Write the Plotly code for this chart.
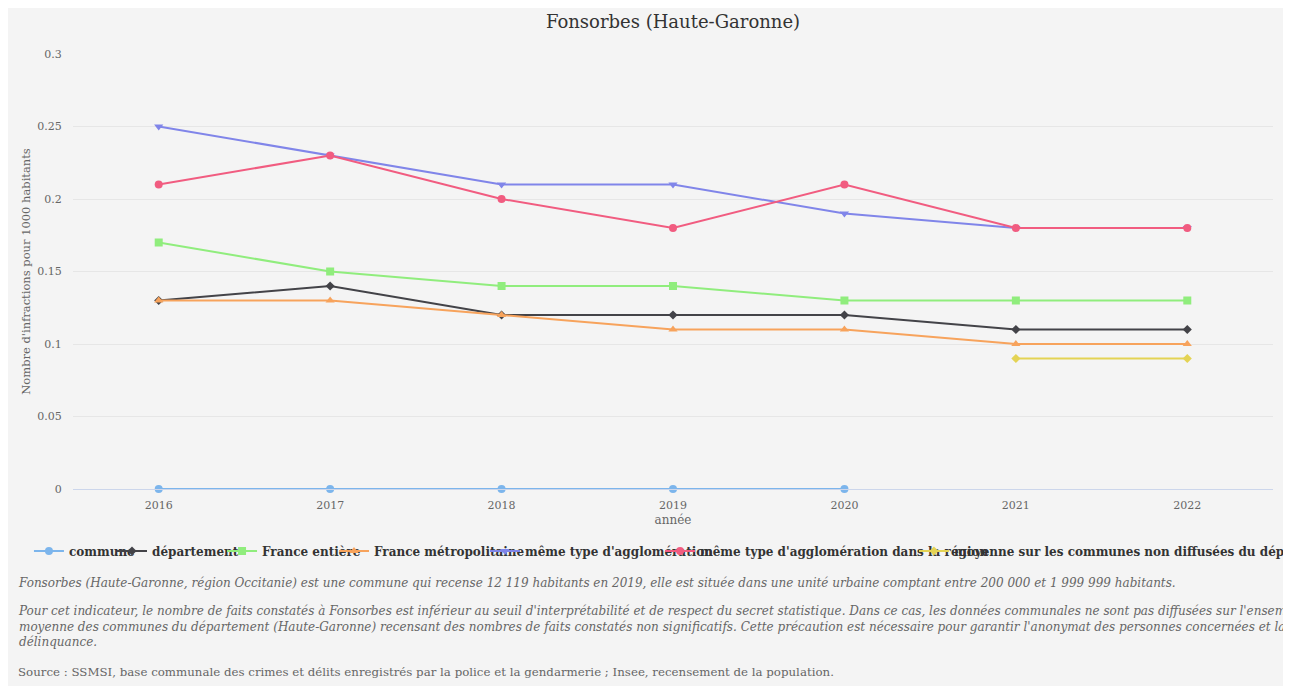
import plotly.graph_objects as go

years = [2016, 2017, 2018, 2019, 2020, 2021, 2022]

series_names = [
    "commune",
    "département",
    "France entière",
    "France métropolitaine",
    "même type d'agglomération",
    "même type d'agglomération dans la région",
    "moyenne sur les communes non diffusées du département",
]

commune = [0, 0, 0, 0, 0, None, None]
departement = [0.13, 0.14, 0.12, 0.12, 0.12, 0.11, 0.11]
france_entiere = [0.17, 0.15, 0.14, 0.14, 0.13, 0.13, 0.13]
france_metro = [0.13, 0.13, 0.12, 0.11, 0.11, 0.10, 0.10]
meme_type = [0.25, 0.23, 0.21, 0.21, 0.19, 0.18, 0.18]
meme_type_region = [0.21, 0.23, 0.20, 0.18, 0.21, 0.18, 0.18]
moyenne_non_diffusees = [None, None, None, None, None, 0.09, 0.09]

y_ticks = [0, 0.05, 0.1, 0.15, 0.2, 0.25, 0.3]
y_tick_labels = ["0", "0.05", "0.1", "0.15", "0.2", "0.25", "0.3"]

title_text = "Fonsorbes (Haute-Garonne)"
x_title = "année"
y_title = "Nombre d'infractions pour 1000 habitants"

note1 = ("Fonsorbes (Haute-Garonne, région Occitanie) est une commune qui recense 12 119 habitants en 2019, "
         "elle est située dans une unité urbaine comptant entre 200 000 et 1 999 999 habitants.")
note2 = ("Pour cet indicateur, le nombre de faits constatés à Fonsorbes est inférieur au seuil d'interprétabilité "
         "et de respect du secret statistique. Dans ce cas, les données communales ne sont pas diffusées sur l'ensemble de la période<br>"
         "moyenne des communes du département (Haute-Garonne) recensant des nombres de faits constatés non significatifs. "
         "Cette précaution est nécessaire pour garantir l'anonymat des personnes concernées et la pertinence des indicateurs de<br>"
         "délinquance.")
note3 = ("Source : SSMSI, base communale des crimes et délits enregistrés par la police et la gendarmerie ; "
         "Insee, recensement de la population.")

all_values = [commune, departement, france_entiere, france_metro, meme_type,
              meme_type_region, moyenne_non_diffusees]
colors = ["#7cb5ec", "#434348", "#90ed7d", "#f7a35c", "#8085e9", "#f15c80", "#e4d354"]
symbols = ["circle", "diamond", "square", "triangle-up", "triangle-down", "circle", "diamond"]
msizes = [8, 7, 8, 8, 8, 8, 7]
legend_x = [-0.0367, 0.0325, 0.1242, 0.2175, 0.3433, 0.4892, 0.7008]

FONT = "DejaVu Serif, serif"
BG = "#f4f4f4"

fig = go.Figure()
for i, (name, vals) in enumerate(zip(series_names, all_values)):
    lid = "legend" if i == 0 else f"legend{i+1}"
    fig.add_trace(go.Scatter(
        x=years, y=vals, name=name, mode="lines+markers",
        line=dict(color=colors[i], width=2),
        marker=dict(symbol=symbols[i], size=msizes[i], color=colors[i]),
        cliponaxis=False, connectgaps=False,
        legend=lid, showlegend=True,
    ))

legends = {}
for i in range(len(series_names)):
    lid = "legend" if i == 0 else f"legend{i+1}"
    legends[lid] = dict(
        x=legend_x[i], xanchor="left", y=-0.1425, yanchor="middle",
        orientation="h", bgcolor="rgba(0,0,0,0)", borderwidth=0,
        font=dict(family=FONT, size=12, color="#333333", weight="bold"),
        itemwidth=30, visible=True,
    )

fig.update_layout(
    width=1275, height=678, showlegend=True,
    margin=dict(l=65, r=10, t=46, b=197, autoexpand=False),
    paper_bgcolor=BG, plot_bgcolor=BG,
    title=dict(text=title_text, x=0.5, xref="paper", xanchor="center",
               y=1 - 14 / 678, yref="container", yanchor="middle",
               font=dict(family=FONT, size=18, color="#333333")),
    font=dict(family=FONT, color="#666666"),
    xaxis=dict(
        range=[2015.5, 2022.5], tickvals=years, ticktext=[str(y) for y in years],
        showgrid=False, zeroline=False, showline=True, linecolor="#ccd6eb", linewidth=1,
        ticks="outside", ticklen=6, tickcolor="rgba(0,0,0,0)",
        tickfont=dict(family=FONT, size=11, color="#666666"),
        title=dict(text=x_title, standoff=4, font=dict(family=FONT, size=12, color="#666666")),
    ),
    yaxis=dict(
        range=[0, 0.3], tickvals=y_ticks, ticktext=y_tick_labels,
        showgrid=True, gridcolor="#e6e6e6", gridwidth=1, zeroline=False, showline=False,
        ticks="outside", ticklen=8, tickcolor="rgba(0,0,0,0)",
        tickfont=dict(family=FONT, size=11, color="#666666"),
        title=dict(text=y_title, standoff=4, font=dict(family=FONT, size=11.5, color="#666666")),
    ),
    **legends,
)

notes = [
    (note1, -0.2161, True, 12),
    (note2, -0.3161, True, 12),
    (note3, -0.4207, False, 11.8),
]
for text, ypos, italic, fs in notes:
    fig.add_annotation(
        text=text, xref="paper", yref="paper", x=-0.0475, y=ypos,
        xanchor="left", yanchor="middle", align="left", showarrow=False,
        font=dict(family=FONT, size=fs, color="#666666",
                  style="italic" if italic else "normal"),
    )

fig.write_html("out.html")
